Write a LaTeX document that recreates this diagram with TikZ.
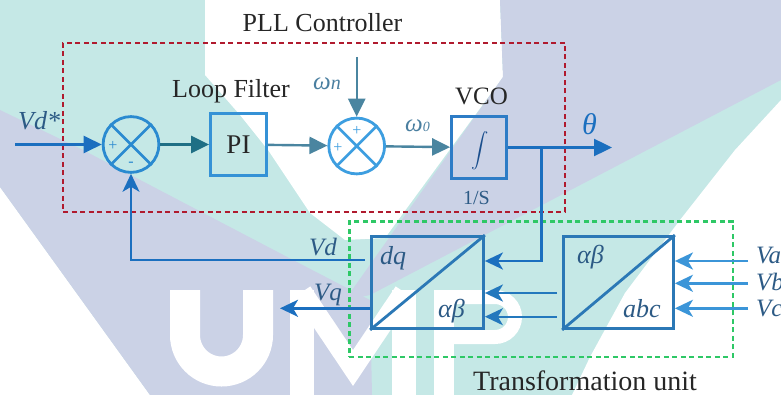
\documentclass[tikz,border=0pt]{standalone}
\usepackage{fontspec}
\usepackage{exscale}
\setmainfont{Liberation Serif}
\usetikzlibrary{arrows.meta}
\definecolor{bgteal}{HTML}{C5E8E6}
\definecolor{bglav}{HTML}{CBD2E6}
\definecolor{dtext}{HTML}{262626}
\definecolor{cmain}{HTML}{1B6FBF}
\definecolor{csum1}{HTML}{2A8AD0}
\definecolor{csum2}{HTML}{3D9EE0}
\definecolor{cteal}{HTML}{1F6F85}
\definecolor{cgray}{HTML}{4A85A0}
\definecolor{cpi}{HTML}{3592D6}
\definecolor{cvco}{HTML}{2D7CC6}
\definecolor{cint}{HTML}{1A4E8C}
\definecolor{cbox}{HTML}{2B78B6}
\definecolor{carr}{HTML}{2378BD}
\definecolor{cin}{HTML}{3B95D8}
\definecolor{clbl}{HTML}{2C5A85}
\definecolor{clblw}{HTML}{4A7FA0}
\definecolor{cred}{HTML}{B01A2E}
\definecolor{cgreen}{HTML}{2EC866}
\begin{document}
\begin{tikzpicture}[x=1pt,y=-1pt,
  lw/.style={line width=2.4pt},
  tri/.style={-{Triangle[length=18pt,width=17pt]}},
  stl/.style={-{Stealth[length=18pt,width=17pt,inset=5pt]}},
  sumc/.style={circle,draw=#1,line width=2.8pt,minimum size=55.8pt,inner sep=0pt},
  blk/.style={rectangle,draw=#1,line width=2.8pt,inner sep=0pt},
  txt/.style={inner sep=0pt,anchor=base,text=dtext},
  ilbl/.style={inner sep=0pt,anchor=base west,text=#1},
  sgn/.style={inner sep=0pt,text=#1,font=\fontsize{16}{16}\selectfont},
  frame/.style={draw=#1,line width=2.4pt,dash pattern=on 5pt off 3.5pt,inner sep=0pt},
  wm/.style={white,line cap=butt}
]
\useasboundingbox (0,0) rectangle (781,395);
% ---- watermark background ----
\fill[bgteal] (0,0) rectangle (781,395);
\fill[white] (205,0) -- (500,0) -- (503,77) -- (385,238) -- (345,240) -- (310,213) -- (268,150) -- (240,115) -- (205,75) -- cycle;
\fill[white] (0,187) -- (150,395) -- (0,395) -- cycle;
\fill[white] (781,100) -- (735,150) -- (680,220) -- (625,293) -- (590,357) -- (572,395) -- (781,395) -- cycle;
\fill[bglav] (0,110) -- (83,150) -- (293,260) -- (345,287) -- (370,300) -- (372,395) -- (150,395) -- (0,187) -- cycle;
\fill[bglav] (500,0) -- (781,0) -- (781,80) -- (370,295) -- (345,300) -- (503,77) -- cycle;
\draw[wm,line width=30pt] (185,290) -- (185,335) arc[start angle=180,end angle=360,radius=36.5pt] -- (258,290);
\draw[wm,line width=24pt] (302,290) -- (302,395) (404,290) -- (404,395);
\draw[wm,line width=20pt,line join=miter] (302,292) -- (353,368) -- (404,292);
\draw[wm,line width=20pt] (444,290) -- (444,395);
\draw[wm,line width=14pt] (444,297) -- (495,297) arc[start angle=90,end angle=-90,radius=20pt] -- (444,337);
% ---- frames ----
\node[frame=cred,minimum width=502pt,minimum height=169pt] (pll) at (314,127.5) {};
\node[frame=cgreen,minimum width=383.7pt,minimum height=135pt] (tu) at (541.2,289.2) {};
% ---- titles ----
\node[txt,font=\fontsize{26}{30}\selectfont] (ttl) at (322.5,32) {PLL Controller};
\node[txt,font=\fontsize{26}{30}\selectfont] (lft) at (231,98) {Loop Filter};
\node[txt,font=\fontsize{25}{30}\selectfont] (vcot) at (481.5,105) {VCO};
\node[txt,text=clbl,font=\fontsize{20}{24}\selectfont] (ones) at (476.5,205) {1/S};
\node[txt,font=\fontsize{28}{32}\selectfont] (tut) at (585,390) {Transformation unit};
% ---- blocks ----
\node[sumc=csum1] (s1) at (131,144.5) {};
\draw[csum1,line width=2.6pt] (s1.45) -- (s1.225) (s1.135) -- (s1.315);
\node[sgn=csum1] (s1p) at (113,146) {+};
\node[sgn=csum1] (s1m) at (131,164) {-};
\node[blk=cpi,minimum width=56pt,minimum height=62pt,text=dtext,font=\fontsize{27}{30}\selectfont] (pi) at (238.5,144.5) {PI};
\node[sumc=csum2] (s2) at (356.7,146) {};
\draw[csum2,line width=2.6pt] (s2.45) -- (s2.225) (s2.135) -- (s2.315);
\node[sgn=csum2] (s2p) at (357,131) {+};
\node[sgn=csum2] (s2q) at (338,148) {+};
\node[blk=cvco,minimum width=55pt,minimum height=62pt] (vco) at (479,147.5) {};
\node[inner sep=0pt,text=cint] (intg) at (480,151) {\fontsize{18}{22}\selectfont$\displaystyle\int$};
\node[blk=cbox,minimum width=112pt,minimum height=92pt] (dq) at (427.5,282.5) {};
\draw[cbox,line width=2.8pt] (dq.south west) -- (dq.north east);
\node[blk=cbox,minimum width=110pt,minimum height=92pt] (ab) at (618.5,282.5) {};
\draw[cbox,line width=2.8pt] (ab.south west) -- (ab.north east);
% ---- labels ----
\node[ilbl=clbl,font=\fontsize{26}{30}\selectfont\itshape] (vds) at (18,130) {Vd*};
\node[ilbl=cmain,font=\fontsize{30}{34}\selectfont\itshape] (th) at (582,135) {θ};
\node[ilbl=clblw,font=\fontsize{25}{30}\selectfont\itshape] (wn) at (313,90) {ω\fontsize{20}{22}\selectfont n};
\node[ilbl=clblw,font=\fontsize{25}{30}\selectfont\itshape] (w0) at (405,132) {ω\fontsize{14}{16}\selectfont 0};
\node[ilbl=clbl,font=\fontsize{25}{30}\selectfont\itshape] (vdl) at (309,255) {Vd};
\node[ilbl=clbl,font=\fontsize{25}{30}\selectfont\itshape] (vql) at (314,300) {Vq};
\node[ilbl=clbl,font=\fontsize{26}{30}\selectfont\itshape] (dql) at (380,265) {dq};
\node[ilbl=clbl,font=\fontsize{26}{30}\selectfont\itshape] (abl1) at (438,317) {αβ};
\node[ilbl=clbl,font=\fontsize{26}{30}\selectfont\itshape] (abl2) at (577,263) {αβ};
\node[ilbl=clbl,font=\fontsize{26}{30}\selectfont\itshape] (abcl) at (623,317) {abc};
\node[ilbl=clbl,font=\fontsize{25}{30}\selectfont\itshape] (val) at (756,263) {Va};
\node[ilbl=clbl,font=\fontsize{25}{30}\selectfont\itshape] (vbl) at (756,290) {Vb};
\node[ilbl=clbl,font=\fontsize{25}{30}\selectfont\itshape] (vcl) at (756,316) {Vc};
% ---- connector ends ----
\coordinate (vdin) at (15,144.5);
\coordinate (wnin) at (356.7,57);
\coordinate (thout) at (612,147.5);
\coordinate (br) at (541.5,147.5);
\coordinate (p0) at (0,260);
\coordinate (p1) at (0,261);
\coordinate (p2) at (0,293);
\coordinate (p3) at (0,316.7);
\coordinate (p4) at (0,308.3);
\coordinate (vqout) at (280,308.3);
\coordinate (ia) at (748,261);
\coordinate (ib) at (748,283.3);
\coordinate (ic) at (748,308.3);
% ---- connectors ----
\draw[cmain,lw,tri] (vdin) -- (s1);
\draw[cteal,lw,tri] (s1) -- (pi);
\draw[cgray,lw,tri] (pi) -- (s2);
\draw[cgray,lw,tri] (wnin) -- (s2);
\draw[cgray,lw,tri] (s2) -- (vco);
\draw[cmain,lw,tri] (vco) -- (thout);
\draw[cmain,lw,stl] (br) |- (dq.east |- p1);
\draw[cmain,lw,stl] ([xshift=-5pt]dq.west |- p0) -| (s1);
\draw[cmain,lw,stl] (dq.west |- p4) -- (vqout);
\draw[carr,lw,stl] ([xshift=-5pt]ab.west |- p2) -- (dq.east |- p2);
\draw[carr,lw,stl] ([xshift=-5pt]ab.west |- p3) -- (dq.east |- p3);
\draw[cin,lw,stl] (ia) -- (ab.east |- ia);
\draw[cin,lw,stl] (ib) -- (ab.east |- ib);
\draw[cin,lw,stl] (ic) -- (ab.east |- ic);
\end{tikzpicture}
\end{document}
